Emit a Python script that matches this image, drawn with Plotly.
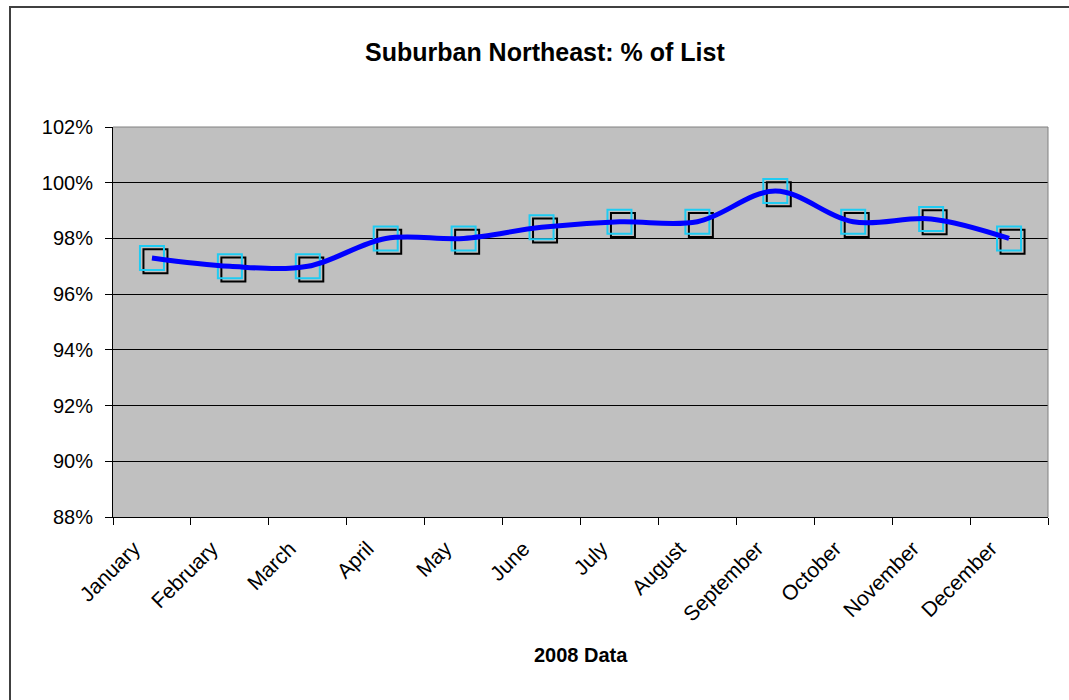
import plotly.graph_objects as go

# 2008 monthly sale price as a percentage of list price
months = ["January", "February", "March", "April", "May", "June",
          "July", "August", "September", "October", "November", "December"]
pct_of_list = [97.3, 97.0, 97.0, 98.0, 98.0, 98.4,
               98.6, 98.6, 99.7, 98.6, 98.7, 98.0]
y_ticks = [88, 90, 92, 94, 96, 98, 100, 102]
y_tick_text = [f"{v}%" for v in y_ticks]

FONT = "Arial, Liberation Sans, sans-serif"

# plot area geometry (pixels)
W, H = 1069, 700
L, R, T, B = 113, 21, 127, 183
pw, ph = W - L - R, H - T - B

x_range = [-0.5, len(months) - 0.5]
y_range = [88, 102]

# shadow squares sit a few pixels right and below the data markers
dx_px, dy_px = 3.5, 3.3
dx = dx_px * (x_range[1] - x_range[0]) / pw
dy = dy_px * (y_range[1] - y_range[0]) / ph

fig = go.Figure()

# base layer establishing the category axis
fig.add_trace(go.Scatter(x=months, y=pct_of_list, mode="none",
                         showlegend=False, hoverinfo="skip"))

# shadow squares
fig.add_trace(go.Scatter(
    x=months, y=pct_of_list, mode="markers", xaxis="x2", yaxis="y2",
    marker=dict(symbol="square-open", size=24, color="black",
                line=dict(width=2, color="black")),
    showlegend=False, hoverinfo="skip"))

# cyan markers
fig.add_trace(go.Scatter(
    x=months, y=pct_of_list, mode="markers", xaxis="x3", yaxis="y3",
    marker=dict(symbol="square-open", size=24, color="#1FCBF2",
                line=dict(width=2, color="#1FCBF2")),
    showlegend=False))

# smoothed line
fig.add_trace(go.Scatter(
    x=months, y=pct_of_list, mode="lines", xaxis="x3", yaxis="y3",
    line=dict(color="#0000FF", width=5, shape="spline", smoothing=1),
    showlegend=False))

overlay_x = dict(type="category", categoryarray=months, overlaying="x",
                 visible=False, fixedrange=True)
overlay_y = dict(overlaying="y", visible=False, fixedrange=True)

fig.update_layout(
    width=W, height=H,
    margin=dict(l=L, r=R, t=T, b=B, pad=0),
    paper_bgcolor="white",
    plot_bgcolor="#C0C0C0",
    font=dict(family=FONT, color="black", size=20),
    xaxis=dict(
        type="category", categoryarray=months, range=x_range,
        tickson="boundaries", ticks="outside", ticklen=7, tickcolor="black",
        tickwidth=1, tickangle=-45, tickfont=dict(size=21, family=FONT),
        ticklabelshift=-18, ticklabelstandoff=10,
        showline=True, linecolor="black", linewidth=1,
        showgrid=False, zeroline=False, fixedrange=True,
    ),
    yaxis=dict(
        range=y_range, tickmode="array", tickvals=y_ticks, ticktext=y_tick_text,
        ticks="outside", ticklen=7, tickcolor="black", tickwidth=1,
        tickfont=dict(size=20, family=FONT), ticklabelstandoff=8,
        showline=True, linecolor="black", linewidth=1,
        showgrid=True, gridcolor="black", gridwidth=1,
        zeroline=False, fixedrange=True,
    ),
    xaxis2=dict(overlay_x, range=[x_range[0] - dx, x_range[1] - dx]),
    yaxis2=dict(overlay_y, range=[y_range[0] + dy, y_range[1] + dy]),
    xaxis3=dict(overlay_x, range=x_range),
    yaxis3=dict(overlay_y, range=y_range),
    shapes=[
        # chart frame
        dict(type="rect", xref="paper", yref="paper",
             x0=(10 - L) / pw, x1=(W + 20 - L) / pw,
             y0=-(H + 20 - T - ph) / ph, y1=1 + (T - 7) / ph,
             line=dict(color="#404040", width=2), layer="above"),
        # plot area border (top and right)
        dict(type="line", xref="paper", yref="paper", x0=0, x1=1, y0=1, y1=1,
             line=dict(color="#808080", width=1), layer="above"),
        dict(type="line", xref="paper", yref="paper", x0=1, x1=1, y0=0, y1=1,
             line=dict(color="#808080", width=1), layer="above"),
    ],
    annotations=[
        dict(text="<b>Suburban Northeast: % of List</b>", xref="paper", yref="paper",
             x=(545 - L) / pw, y=1 + (T - 52) / ph, xanchor="center", yanchor="middle",
             showarrow=False, font=dict(size=25, family=FONT, color="black")),
        dict(text="<b>2008 Data</b>", xref="paper", yref="paper",
             x=0.5, y=-(655 - T - ph) / ph, xanchor="center", yanchor="middle",
             showarrow=False, font=dict(size=20, family=FONT, color="black")),
    ],
)

fig.write_html("out.html")
